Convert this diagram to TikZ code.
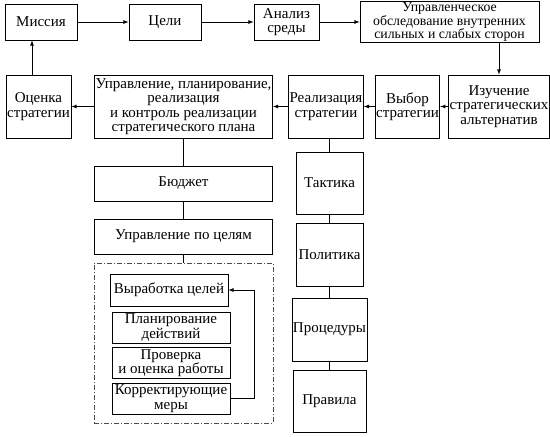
\documentclass[tikz,border=0pt]{standalone}
\usepackage{fontspec}
\setmainfont{Liberation Serif}
\usetikzlibrary{positioning}

\begin{document}
\begin{tikzpicture}[>=latex, on grid, line width=0.8pt,
    block/.style={draw, align=center, inner sep=1pt, font=\fontsize{15}{14.5}\selectfont},
    dashframe/.style={draw, gray!60!black, dash pattern=on 5pt off 2pt on 1pt off 2pt}]
  \useasboundingbox (0,0) rectangle (550pt,-437pt);

  % top row
  \node[block, minimum width=72pt, minimum height=36pt] (mission) at (41pt,-22pt) {Миссия};
  \node[block, minimum width=72pt, minimum height=36pt] (goals) [right=124pt of mission] {Цели};
  \node[block, minimum width=65pt, minimum height=36pt] (analysis) [right=121.5pt of goals] {Анализ\\среды};
  \node[block, minimum width=179pt, minimum height=36pt, font=\fontsize{13.8}{10.5}\selectfont] (survey) [right=163pt of analysis]
    {Управленческое\\обследование внутренних\\сильных и слабых сторон};

  % bottom row
  \node[block, minimum width=98pt, minimum height=63pt] (study) [below right=84.5pt and 49.5pt of survey] {Изучение\\стратегических\\альтернатив};
  \node[block, minimum width=61pt, minimum height=63pt] (choice) [left=91.5pt of study] {Выбор\\стратегии};
  \node[block, minimum width=74pt, minimum height=63pt] (implement) [left=81.5pt of choice] {Реализация\\стратегии};
  \node[block, minimum width=178pt, minimum height=63pt] (control) [left=142.5pt of implement]
    {Управление, планирование,\\реализация\\и контроль реализации\\стратегического плана};
  \node[block, minimum width=65pt, minimum height=63pt] (evaluation) [left=145pt of control] {Оценка\\стратегии};

  % left column
  \node[block, minimum width=178pt, minimum height=35pt] (budget) [below=77pt of control] {Бюджет};
  \node[block, minimum width=178pt, minimum height=35pt] (mbo) [below=53pt of budget] {Управление по целям};
  \node[dashframe, minimum width=179pt, minimum height=160pt] (frame) [below=106.5pt of mbo] {};
  \node[block, minimum width=118pt, minimum height=32pt] (goalset) [above left=53pt and 14.5pt of frame] {Выработка целей};
  \node[block, minimum width=118pt, minimum height=31pt] (plan) [below right=37.5pt and 2pt of goalset] {Планирование\\действий};
  \node[block, minimum width=118pt, minimum height=31pt] (check) [below=35.5pt of plan] {Проверка\\и оценка работы};
  \node[block, minimum width=118pt, minimum height=31pt] (correct) [below=35.5pt of check] {Корректирующие\\меры};

  % right column
  \node[block, minimum width=67pt, minimum height=62pt] (tactics) [below right=76.5pt and 3.5pt of implement] {Тактика};
  \node[block, minimum width=67pt, minimum height=63pt] (policy) [below=71.5pt of tactics] {Политика};
  \node[block, minimum width=73pt, minimum height=63pt] (procedures) [below=75pt of policy] {Процедуры};
  \node[block, minimum width=73pt, minimum height=62pt] (rules) [below=71.5pt of procedures] {Правила};

  % arrows
  \draw[->] (mission) -- (goals);
  \draw[->] (goals) -- (analysis);
  \draw[->] (analysis) -- (survey);
  \draw[->] (survey.south -| study) -- (study.north);
  \draw[->] (study) -- (choice);
  \draw[->] (choice) -- (implement);
  \draw[->] (implement) -- (control);
  \draw[->] (control) -- (evaluation);
  \coordinate (up) at ([xshift=-6.5pt]evaluation.north);
  \draw[->] (up) -- (up |- mission.south);

  \draw (control.south -| budget) -- (budget.north);
  \draw (budget) -- (mbo);
  \draw (mbo) -- (frame);
  \draw[->] (correct.east) -- ++(24pt,0) |- (goalset.east);

  \draw (implement.south -| tactics) -- (tactics.north);
  \draw (tactics) -- (policy);
  \draw (policy) -- (procedures);
  \draw (procedures) -- (rules);
\end{tikzpicture}
\end{document}
